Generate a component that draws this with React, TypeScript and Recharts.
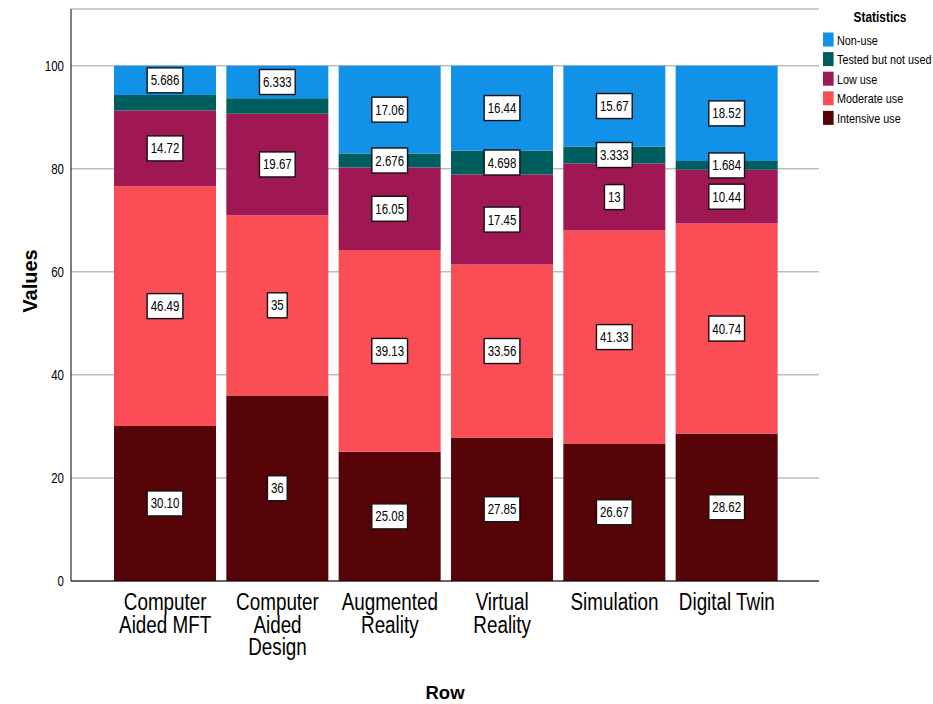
import React from 'react';
import { BarChart, Bar, XAxis, YAxis, CartesianGrid, LabelList, Label } from 'recharts';

// Categories along the horizontal axis
const categories = [
  'Computer Aided MFT',
  'Computer Aided Design',
  'Augmented Reality',
  'Virtual Reality',
  'Simulation',
  'Digital Twin',
];

// Wrapped tick text for each category
const categoryLines: Record<string, string[]> = {
  'Computer Aided MFT': ['Computer', 'Aided MFT'],
  'Computer Aided Design': ['Computer', 'Aided', 'Design'],
  'Augmented Reality': ['Augmented', 'Reality'],
  'Virtual Reality': ['Virtual', 'Reality'],
  'Simulation': ['Simulation'],
  'Digital Twin': ['Digital Twin'],
};

// Percent shares per usage level (bottom to top of each stack)
const intensiveUse = [30.1, 36, 25.08, 27.85, 26.67, 28.62];
const moderateUse = [46.49, 35, 39.13, 33.56, 41.33, 40.74];
const lowUse = [14.72, 19.67, 16.05, 17.45, 13, 10.44];
const testedNotUsed = [3.004, 2.997, 2.676, 4.698, 3.333, 1.684];
const nonUse = [5.686, 6.333, 17.06, 16.44, 15.67, 18.52];

// Segments that carry no value box
const unlabeledTested = ['Computer Aided MFT', 'Computer Aided Design'];

const yTicks = [0, 20, 40, 60, 80, 100];

const series = [
  { key: 'intensive', name: 'Intensive use', color: '#570408', values: intensiveUse },
  { key: 'moderate', name: 'Moderate use', color: '#fa4d56', values: moderateUse },
  { key: 'low', name: 'Low use', color: '#9f1853', values: lowUse },
  { key: 'tested', name: 'Tested but not used', color: '#005d5d', values: testedNotUsed },
  { key: 'nonuse', name: 'Non-use', color: '#1192e8', values: nonUse },
];

const data = categories.map((category, i) => {
  const row: Record<string, string | number> = { category };
  series.forEach((s) => {
    row[s.key] = s.values[i];
  });
  return row;
});

const FONT = '"Liberation Sans", Arial, sans-serif';
const SQUEEZE = 0.82; // horizontal condensing to mimic a narrow face

const formatValue = (v: number) => (Number.isInteger(v) ? String(v) : v.toPrecision(4));

const textWidth = (s: string, size: number) =>
  s.split('').reduce((w, ch) => w + (ch === '.' ? 0.278 : 0.556) * size * SQUEEZE, 0);

type NarrowProps = {
  x: number;
  y: number;
  size: number;
  anchor?: 'start' | 'middle' | 'end';
  bold?: boolean;
  children: React.ReactNode;
};

const NarrowText = ({ x, y, size, anchor = 'start', bold = false, children }: NarrowProps) => (
  <text
    transform={`translate(${x} ${y}) scale(${SQUEEZE} 1)`}
    x={0}
    y={0}
    textAnchor={anchor}
    fontFamily={FONT}
    fontWeight={bold ? 'bold' : 'normal'}
    fontSize={size}
    fill="#000000"
  >
    {children}
  </text>
);

const makeValueBox = (seriesKey: string) => (props: any) => {
  const { x, y, width, height, value, index } = props;
  if (value == null) return null;
  if (seriesKey === 'tested' && unlabeledTested.includes(categories[index])) return null;
  const text = formatValue(Number(value));
  const fs = 14;
  const w = textWidth(text, fs) + 7;
  const h = 25;
  const cx = Number(x) + Number(width) / 2;
  const cy = Number(y) + Number(height) / 2;
  return (
    <g>
      <rect x={cx - w / 2} y={cy - h / 2} width={w} height={h} fill="#ffffff" stroke="#111111" strokeWidth={1.4} />
      <NarrowText x={cx} y={cy + 5} size={fs} anchor="middle">
        {text}
      </NarrowText>
    </g>
  );
};

const CategoryTick = (props: any) => {
  const { x, payload } = props;
  const lines = categoryLines[payload.value] ?? [payload.value];
  return (
    <g>
      {lines.map((line, i) => (
        <NarrowText key={i} x={x} y={610 + i * 22.5} size={23} anchor="middle">
          {line}
        </NarrowText>
      ))}
    </g>
  );
};

const ValueTick = (props: any) => {
  const { x, y, payload } = props;
  return (
    <NarrowText x={x} y={y + 5} size={14} anchor="end">
      {payload.value}
    </NarrowText>
  );
};

const LegendBox = () => {
  const ordered = [...series].reverse();
  return (
    <svg width={118} height={130} style={{ position: 'absolute', left: 815, top: 0, overflow: 'hidden' }}>
      <NarrowText x={65} y={22} size={14.5} anchor="middle" bold>
        Statistics
      </NarrowText>
      {ordered.map((s, i) => (
        <g key={s.key}>
          <rect x={8} y={32.5 + i * 19.6} width={10.6} height={14} fill={s.color} />
          <NarrowText x={22} y={44.5 + i * 19.6} size={13.2}>
            {s.name}
          </NarrowText>
        </g>
      ))}
    </svg>
  );
};

export default function App() {
  return (
    <div style={{ position: 'absolute', left: 0, top: 0, width: 933, height: 704, background: '#ffffff' }}>
      <BarChart
        width={933}
        height={704}
        data={data}
        margin={{ top: 9, right: 114, bottom: 23, left: 0 }}
        barSize={102}
      >
        <CartesianGrid vertical={false} stroke="#bdbdbd" strokeWidth={1.5} />
        <XAxis
          dataKey="category"
          height={100}
          tickLine={false}
          axisLine={{ stroke: '#000000', strokeWidth: 1 }}
          padding={{ left: 38, right: 36 }}
          tick={<CategoryTick />}
          interval={0}
        >
          <Label
            content={() => (
              <text x={445} y={699} textAnchor="middle" fontFamily={FONT} fontWeight="bold" fontSize={18.5} fill="#000000">
                Row
              </text>
            )}
          />
        </XAxis>
        <YAxis
          width={71}
          domain={[0, 111]}
          ticks={yTicks}
          allowDataOverflow
          tickLine={false}
          tickSize={0}
          tickMargin={7}
          axisLine={{ stroke: '#000000', strokeWidth: 1 }}
          tick={<ValueTick />}
        >
          <Label
            content={() => (
              <text
                x={0}
                y={0}
                transform="translate(37 281) rotate(-90)"
                textAnchor="middle"
                fontFamily={FONT}
                fontWeight="bold"
                fontSize={20}
                fill="#000000"
              >
                Values
              </text>
            )}
          />
        </YAxis>
        {series.map((s) => (
          <Bar key={s.key} dataKey={s.key} name={s.name} stackId="usage" fill={s.color} isAnimationActive={false}>
            <LabelList dataKey={s.key} content={makeValueBox(s.key)} />
          </Bar>
        ))}
      </BarChart>
      <LegendBox />
    </div>
  );
}
